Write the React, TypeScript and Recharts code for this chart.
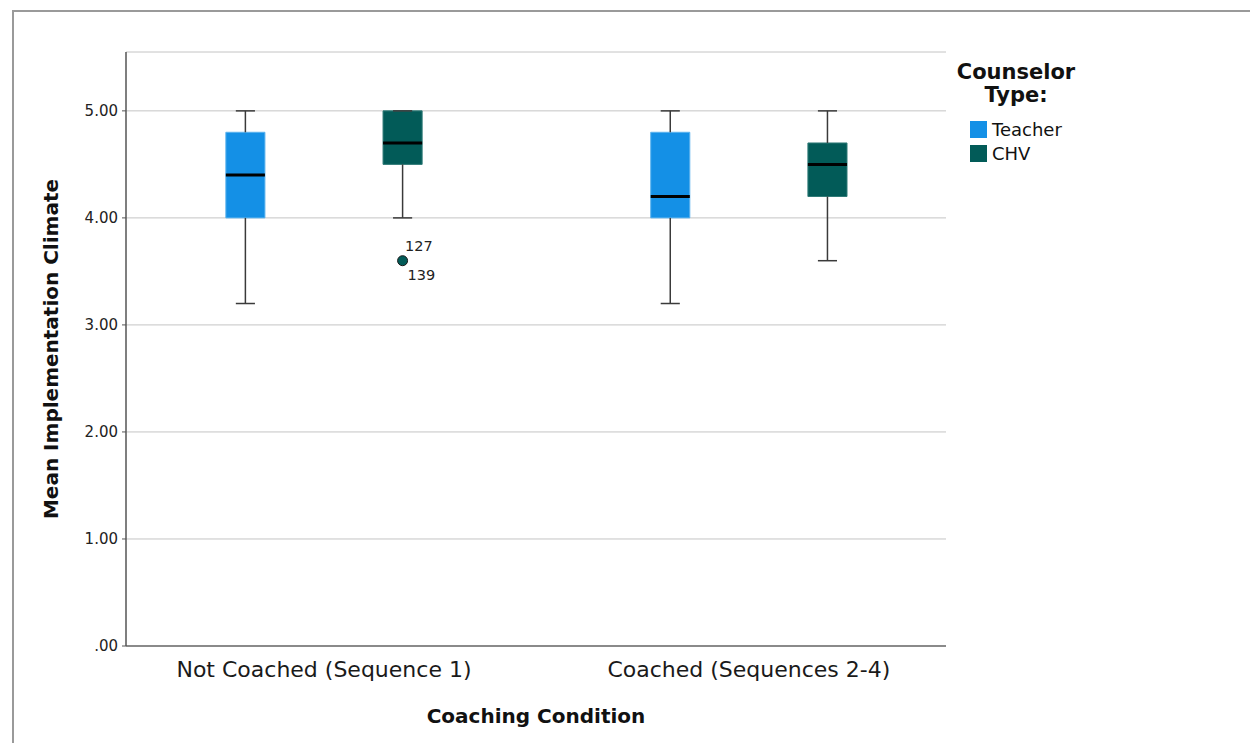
import React from 'react';
import {
  ComposedChart,
  XAxis,
  YAxis,
  CartesianGrid,
  ReferenceArea,
  ReferenceLine,
  Scatter,
  Legend,
  Label,
} from 'recharts';

const categories = ['Not Coached (Sequence 1)', 'Coached (Sequences 2-4)'];
const seriesNames = ['Teacher', 'CHV'];
const seriesColors = ['#1490E6', '#025B58'];
const seriesEdges = ['#5cb3ee', '#2f7a77'];

// five-number summaries per category
const teacherMin = [3.2, 3.2];
const teacherQ1 = [4.0, 4.0];
const teacherMedian = [4.4, 4.2];
const teacherQ3 = [4.8, 4.8];
const teacherMax = [5.0, 5.0];

const chvMin = [4.0, 3.6];
const chvQ1 = [4.5, 4.2];
const chvMedian = [4.7, 4.5];
const chvQ3 = [5.0, 4.7];
const chvMax = [5.0, 5.0];

// outliers: category index, series index, value, case labels
const outlierCategory = [0];
const outlierSeries = [1];
const outlierValues = [3.6];
const outlierCases = [['127', '139']];

const yTicks = [0, 1, 2, 3, 4, 5];

const FONT = "'DejaVu Sans', Verdana, sans-serif";
const SERIES_OFFSET = 0.185;
const BOX_HALF = 0.046;
const CAP_HALF = 0.0225;

const stats = [
  { min: teacherMin, q1: teacherQ1, med: teacherMedian, q3: teacherQ3, max: teacherMax },
  { min: chvMin, q1: chvQ1, med: chvMedian, q3: chvQ3, max: chvMax },
];

const boxes = categories.flatMap((_, ci) =>
  stats.map((s, si) => ({
    key: `${ci}-${si}`,
    x: ci + (si === 0 ? -SERIES_OFFSET : SERIES_OFFSET),
    min: s.min[ci],
    q1: s.q1[ci],
    med: s.med[ci],
    q3: s.q3[ci],
    max: s.max[ci],
    color: seriesColors[si],
    edge: seriesEdges[si],
  }))
);

const outlierData = outlierValues.map((v, i) => ({
  x: outlierCategory[i] + (outlierSeries[i] === 0 ? -SERIES_OFFSET : SERIES_OFFSET),
  y: v,
  cases: outlierCases[i],
  color: seriesColors[outlierSeries[i]],
}));

const OutlierShape = (props: any) => {
  const { cx, cy, payload } = props;
  return (
    <g>
      <circle cx={cx} cy={cy} r={5} fill={payload.color} stroke="#1a1a1a" strokeWidth={1} />
      <text x={cx + 2.5} y={cy - 10} fontSize={14.5} fontFamily={FONT} fill="#222">
        {payload.cases[0]}
      </text>
      <text x={cx + 5} y={cy + 19} fontSize={14.5} fontFamily={FONT} fill="#222">
        {payload.cases[1]}
      </text>
    </g>
  );
};

const renderLegend = () => (
  <div style={{ fontFamily: FONT, color: '#111', width: 150 }}>
    <div style={{ fontWeight: 'bold', fontSize: 21, lineHeight: '23px', textAlign: 'center' }}>
      Counselor
      <br />
      Type:
    </div>
    <div style={{ marginTop: 10, paddingLeft: 29 }}>
      {seriesNames.map((n, i) => (
        <div key={n} style={{ display: 'flex', alignItems: 'center', height: 24 }}>
          <span style={{ width: 17, height: 17, background: seriesColors[i], marginRight: 5, display: 'inline-block' }} />
          <span style={{ fontSize: 18 }}>{n}</span>
        </div>
      ))}
    </div>
  </div>
);

export default function App() {
  return (
    <div style={{ position: 'relative', width: 1250, height: 735, overflow: 'hidden', background: '#fff' }}>
      <div
        style={{
          position: 'absolute',
          left: 4,
          top: 2,
          width: 1300,
          height: 800,
          borderTop: '2px solid #9a9a9a',
          borderLeft: '2px solid #9a9a9a',
        }}
      />
      <ComposedChart
        width={1250}
        height={735}
        margin={{ top: 44, right: 312, left: 18, bottom: 12 }}
        style={{ fontFamily: FONT }}
      >
        <CartesianGrid horizontal vertical={false} stroke="#c4c4c4" strokeWidth={1} />
        <XAxis
          type="number"
          dataKey="x"
          domain={[-0.466, 1.464]}
          ticks={[0, 1]}
          tickFormatter={(v: number) => categories[v] ?? ''}
          tickLine={false}
          tickSize={0}
          tickMargin={15}
          height={85}
          axisLine={{ stroke: '#8a8a8a', strokeWidth: 2 }}
          tick={{ fill: '#1a1a1a', fontSize: 22, fontFamily: FONT }}
          allowDataOverflow
        >
          <Label
            value="Coaching Condition"
            position="insideBottom"
            offset={8}
            style={{ fontSize: 20, fontWeight: 'bold', fill: '#111', fontFamily: FONT }}
          />
        </XAxis>
        <YAxis
          type="number"
          domain={[0, 5.55]}
          ticks={yTicks}
          width={100}
          tickSize={4}
          tickMargin={4}
          tickFormatter={(v: number) => (v === 0 ? '.00' : v.toFixed(2))}
          axisLine={{ stroke: '#555', strokeWidth: 1.5 }}
          tickLine={{ stroke: '#555' }}
          tick={{ fill: '#222', fontSize: 15, fontFamily: FONT }}
          allowDataOverflow
        >
          <Label
            value="Mean Implementation Climate"
            angle={-90}
            position="insideLeft"
            offset={25}
            style={{ textAnchor: 'middle', fontSize: 20, fontWeight: 'bold', fill: '#111', fontFamily: FONT }}
          />
        </YAxis>

        {boxes.map((b) => (
          <ReferenceLine
            key={`lw-${b.key}`}
            segment={[{ x: b.x, y: b.min }, { x: b.x, y: b.q1 }]}
            stroke="#3a3a3a"
            strokeWidth={1.5}
          />
        ))}
        {boxes.map((b) => (
          <ReferenceLine
            key={`uw-${b.key}`}
            segment={[{ x: b.x, y: b.q3 }, { x: b.x, y: b.max }]}
            stroke="#3a3a3a"
            strokeWidth={1.5}
          />
        ))}
        {boxes.map((b) => (
          <ReferenceLine
            key={`lc-${b.key}`}
            segment={[{ x: b.x - CAP_HALF, y: b.min }, { x: b.x + CAP_HALF, y: b.min }]}
            stroke="#3a3a3a"
            strokeWidth={1.5}
          />
        ))}
        {boxes.map((b) => (
          <ReferenceLine
            key={`uc-${b.key}`}
            segment={[{ x: b.x - CAP_HALF, y: b.max }, { x: b.x + CAP_HALF, y: b.max }]}
            stroke="#3a3a3a"
            strokeWidth={1.5}
          />
        ))}
        {boxes.map((b) => (
          <ReferenceArea
            key={`box-${b.key}`}
            x1={b.x - BOX_HALF}
            x2={b.x + BOX_HALF}
            y1={b.q1}
            y2={b.q3}
            fill={b.color}
            fillOpacity={1}
            stroke={b.edge}
            strokeWidth={1}
          />
        ))}
        {boxes.map((b) => (
          <ReferenceLine
            key={`med-${b.key}`}
            segment={[{ x: b.x - BOX_HALF, y: b.med }, { x: b.x + BOX_HALF, y: b.med }]}
            stroke="#000"
            strokeWidth={3}
          />
        ))}

        <Scatter data={outlierData} dataKey="y" shape={<OutlierShape />} isAnimationActive={false} legendType="none" />

        <Legend
          layout="vertical"
          align="center"
          verticalAlign="middle"
          content={renderLegend}
          wrapperStyle={{ left: 933, top: 53, width: 150 }}
        />
      </ComposedChart>
    </div>
  );
}
